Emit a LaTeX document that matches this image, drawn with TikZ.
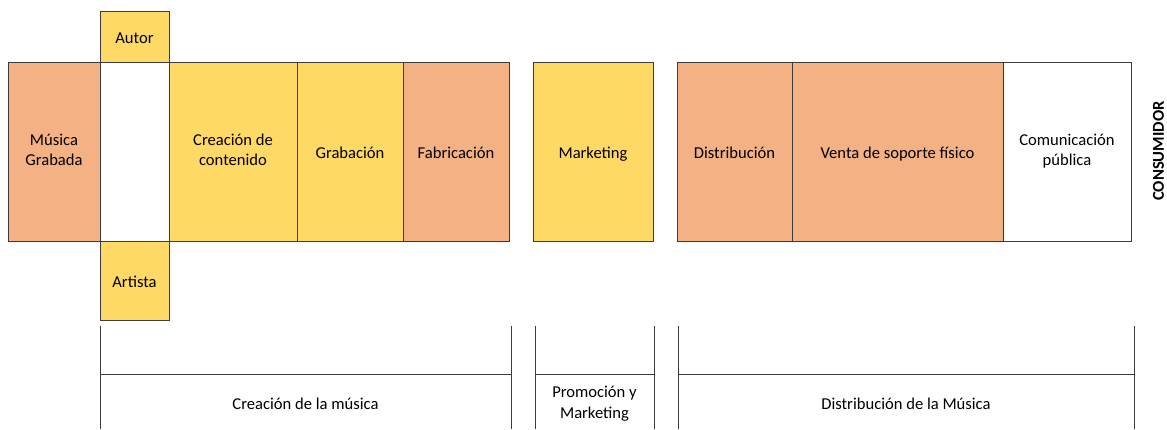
\documentclass[tikz,border=0pt]{standalone}
\usepackage{fontspec}
\setmainfont{Carlito}
\usetikzlibrary{positioning}
\definecolor{amarillo}{RGB}{255,217,102}
\definecolor{naranja}{RGB}{244,177,131}
\definecolor{borde}{RGB}{60,60,60}
\newcommand\puntal{\rule[-3.4pt]{0pt}{20.4pt}}

\begin{document}
\begin{tikzpicture}[x=1pt,y=-1pt,
  every node/.style={font=\fontsize{16.6}{20.5}\selectfont,
    execute at begin node=\puntal, execute at end node=\puntal},
  caja/.style={draw=borde, line width=0.8pt, outer sep=0pt, inner sep=2pt,
    align=center, minimum height=179pt, minimum width=#1},
  linea/.style={draw=borde, line width=0.8pt}]
\useasboundingbox (0,0) rectangle (1167,429);
% fila principal
\node [caja=92pt, fill=naranja, anchor=north west] (musica) at (8,62) {Música\\Grabada};
\node [caja=69pt, fill=white, right=0pt of musica] (vacio) {};
\node [caja=69pt, minimum height=51pt, fill=amarillo, above=0pt of vacio] (autor) {Autor};
\node [caja=69pt, minimum height=79pt, fill=amarillo, below=0pt of vacio] (artista) {Artista};
\node [caja=128pt, fill=amarillo, right=0pt of vacio] (contenido) {Creación de\\contenido};
\node [caja=106pt, fill=amarillo, right=0pt of contenido] (grabacion) {Grabación};
\node [caja=106pt, fill=naranja, right=0pt of grabacion] (fabricacion) {Fabricación};
\node [caja=120pt, fill=amarillo, right=24pt of fabricacion] (marketing) {Marketing};
\node [caja=115pt, fill=naranja, right=24pt of marketing] (distribucion) {Distribución};
\node [caja=211pt, fill=naranja, right=0pt of distribucion] (venta) {Venta de soporte físico};
\node [caja=128pt, fill=white, right=0pt of venta] (comunicacion) {Comunicación\\pública};
\node [rotate=90, inner sep=1pt, execute at begin node={}, execute at end node={},
  font=\fontsize{16.6}{20.5}\selectfont\bfseries] (consumidor) at (1157,151) {CONSUMIDOR};
% etapas
\foreach \a/\b in {100/511, 535/654, 678/1134} {
  \draw [linea] (\a,326) -- (\a,429);
  \draw [linea] (\b,326) -- (\b,429);
  \draw [linea] (\a,374) -- (\b,374);
}
\node [align=center] (creacion) at (305.5,403) {Creación de la música};
\node [align=center] (promocion) at (594.5,404) {Promoción y\\Marketing};
\node [align=center] (distmusica) at (906,403) {Distribución de la Música};
\end{tikzpicture}
\end{document}
